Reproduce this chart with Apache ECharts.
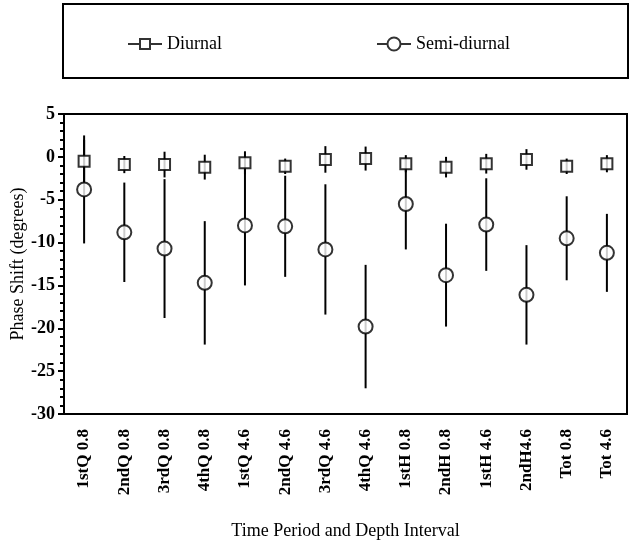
<!DOCTYPE html>
<html lang="en">
<head>
    <meta charset="UTF-8">
    <title>Phase Shift</title>
    <script src="https://cdn.jsdelivr.net/npm/echarts@6/dist/echarts.min.js"></script>
    <style>
        body { margin: 0; background: #fff; }
    </style>
</head>
<body>
    <div id="main" style="width: 632px;height: 547px;"></div>
    <script type="text/javascript">
        var categories = ['1stQ 0.8', '2ndQ 0.8', '3rdQ 0.8', '4thQ 0.8', '1stQ 4.6', '2ndQ 4.6', '3rdQ 4.6',
            '4thQ 4.6', '1stH 0.8', '2ndH 0.8', '1stH 4.6', '2ndH4.6', 'Tot 0.8', 'Tot 4.6'];
        var diurnal = [-0.5, -0.9, -0.9, -1.2, -0.7, -1.1, -0.3, -0.2, -0.8, -1.2, -0.8, -0.3, -1.1, -0.8];
        var diurnalErr = [2.5, 1.0, 1.5, 1.45, 1.35, 0.9, 1.55, 1.4, 1.0, 1.2, 1.15, 1.2, 0.9, 1.0];
        var semi = [-3.8, -8.8, -10.7, -14.7, -8.0, -8.1, -10.8, -19.8, -5.5, -13.8, -7.9, -16.1, -9.5, -11.2];
        var semiErr = [6.3, 5.8, 8.1, 7.2, 7.0, 5.9, 7.6, 7.2, 5.3, 6.0, 5.4, 5.8, 4.9, 4.55];

        var FONT = 'Liberation Serif';

        function bars(vals, errs) {
            return vals.map(function (v, i) { return [i, v - errs[i], v + errs[i]]; });
        }

        function renderBar(params, api) {
            var lo = api.coord([api.value(0), api.value(1)]);
            var hi = api.coord([api.value(0), api.value(2)]);
            return {
                type: 'line',
                shape: { x1: lo[0], y1: lo[1], x2: hi[0], y2: hi[1] },
                style: { stroke: '#000', lineWidth: 2 }
            };
        }

        var markStyle = { color: '#fff', borderColor: '#000', borderWidth: 2 };

        var myChart = echarts.init(document.getElementById('main'));
        myChart.setOption({
            animation: false,
            textStyle: { fontFamily: FONT, color: '#000' },
            graphic: [{
                type: 'rect',
                shape: { x: 63, y: 4, width: 565, height: 74 },
                style: { fill: 'none', stroke: '#000', lineWidth: 2 }
            }],
            legend: {
                left: 122,
                top: 30,
                itemWidth: 34,
                itemHeight: 13,
                itemGap: 154,
                textStyle: { fontFamily: FONT, fontSize: 18, color: '#000' },
                data: [{
                    name: 'Diurnal',
                    icon: 'path://M0,5 L12,5 M22,5 L34,5 M12,0 L22,0 L22,10 L12,10 Z',
                    itemStyle: markStyle
                }, {
                    name: 'Semi-diurnal',
                    icon: 'path://M0,6.5 L10.5,6.5 M23.5,6.5 L34,6.5 M10.5,6.5 A6.5,6.5 0 1,1 23.5,6.5 A6.5,6.5 0 1,1 10.5,6.5 Z',
                    itemStyle: markStyle
                }]
            },
            grid: {
                left: 64, right: 5, top: 114, bottom: 133,
                outerBoundsMode: 'none',
                show: true, borderColor: '#000', borderWidth: 2, backgroundColor: 'transparent'
            },
            xAxis: {
                type: 'category',
                data: categories,
                name: 'Time Period and Depth Interval',
                nameLocation: 'middle',
                nameGap: 108,
                nameMoveOverlap: false,
                nameTextStyle: { fontFamily: FONT, fontSize: 18, color: '#000' },
                axisLine: { onZero: false, lineStyle: { color: '#000', width: 2 } },
                axisTick: { inside: false, length: 7, lineStyle: { color: '#000', width: 2 } },
                axisLabel: { rotate: 90, margin: 15, fontFamily: FONT, fontSize: 17, fontWeight: 'bold', color: '#000' },
                splitLine: { show: false }
            },
            yAxis: {
                type: 'value',
                min: -30,
                max: 5,
                interval: 5,
                name: 'Phase Shift (degrees)',
                nameLocation: 'middle',
                nameGap: 37,
                nameMoveOverlap: false,
                nameTextStyle: { fontFamily: FONT, fontSize: 18, color: '#000' },
                axisLine: { show: true, lineStyle: { color: '#000', width: 2 } },
                axisTick: { show: true, inside: false, length: 6, lineStyle: { color: '#000', width: 2 } },
                minorTick: { show: true, splitNumber: 5, length: 4, lineStyle: { color: '#000', width: 2 } },
                axisLabel: { margin: 9, fontFamily: FONT, fontSize: 18, fontWeight: 'bold', color: '#000' },
                splitLine: { show: false }
            },
            series: [{
                type: 'custom',
                renderItem: renderBar,
                data: bars(semi, semiErr),
                z: 1
            }, {
                type: 'custom',
                renderItem: renderBar,
                data: bars(diurnal, diurnalErr),
                z: 1
            }, {
                name: 'Diurnal',
                type: 'scatter',
                symbol: 'rect',
                symbolSize: 11,
                itemStyle: markStyle,
                data: diurnal,
                z: 3
            }, {
                name: 'Semi-diurnal',
                type: 'scatter',
                symbol: 'circle',
                symbolSize: 14,
                itemStyle: markStyle,
                data: semi,
                z: 3
            }]
        });
    </script>
</body>
</html>
